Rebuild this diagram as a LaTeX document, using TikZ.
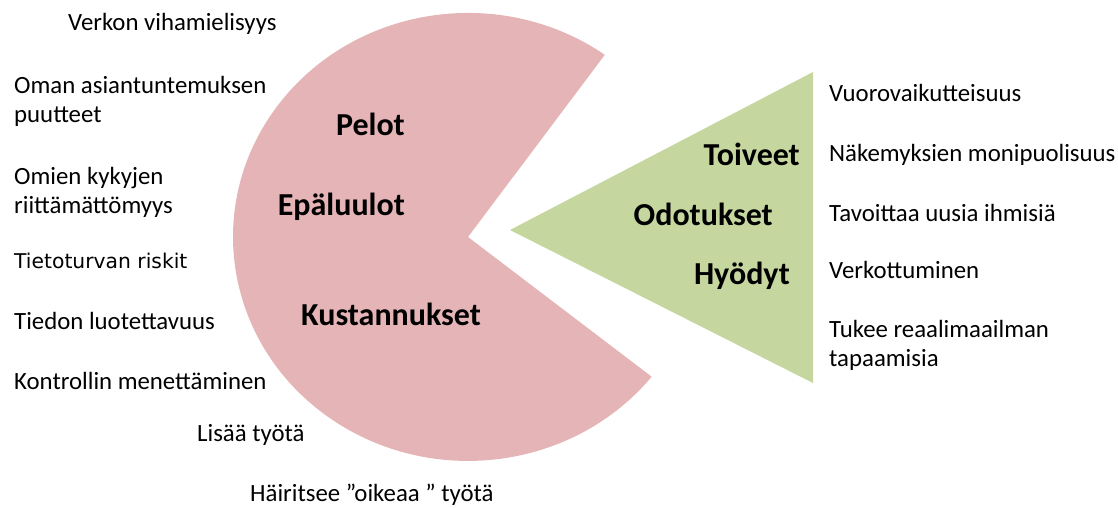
\documentclass[tikz,border=0pt]{standalone}
\usepackage{fontspec}
\setmainfont{Carlito}
\newfontfamily\tfont{DejaVu Sans}
\definecolor{pinkfill}{RGB}{229,180,182}
\definecolor{greenfill}{RGB}{197,215,159}
\begin{document}
\begin{tikzpicture}[x=1pt,y=-1pt,
  item/.style={anchor=base west, inner sep=0pt, font=\fontsize{24.8}{29}\selectfont, align=left},
  head/.style={anchor=base east, inner sep=0pt, font=\fontsize{32}{37}\selectfont\bfseries}]
\useasboundingbox (0,0) rectangle (1118,507);
% pac-man
\coordinate (pv) at (468,237);
\coordinate (pu) at (604.8,54.8);
\fill[pinkfill] (pv) -- (pu) arc[start angle=-54.4, end angle=-321.4, x radius=235, y radius=224] -- cycle;
% triangle
\coordinate (ta) at (510,230);
\coordinate (tb) at (813,72);
\coordinate (tc) at (813,383);
\fill[greenfill] (ta) -- (tb) -- (tc) -- cycle;
% headings
\node[head] (pelot) at (405,135) {Pelot};
\node[head] (epa) at (405,215) {Epäluulot};
\node[head] (kust) at (481,325) {Kustannukset};
\node[head] (toiv) at (800,165) {Toiveet};
\node[head] (odot) at (773,225) {Odotukset};
\node[head] (hyod) at (790,284) {Hyödyt};
% left items
\node[item] (l1) at (68,30) {Verkon vihamielisyys};
\node[item] (l2) at (14,122) {Oman asiantuntemuksen\\puutteet};
\node[item] (l3) at (14,213) {Omien kykyjen\\riittämättömyys};
\node[item, font=\tfont\fontsize{20.3}{24}\selectfont] (l4) at (14,268) {Tietoturvan riskit};
\node[item] (l5) at (14,329) {Tiedon luotettavuus};
\node[item] (l6) at (14,389) {Kontrollin menettäminen};
\node[item] (l7) at (197,441) {Lisää työtä};
\node[item] (l8) at (250,501) {Häiritsee ”oikeaa ” työtä};
% right items
\node[item] (r1) at (829,101) {Vuorovaikutteisuus};
\node[item] (r2) at (829,161) {Näkemyksien monipuolisuus};
\node[item] (r3) at (829,221) {Tavoittaa uusia ihmisiä};
\node[item] (r4) at (829,278) {Verkottuminen};
\node[item] (r5) at (829,366) {Tukee reaalimaailman\\tapaamisia};
\end{tikzpicture}
\end{document}
